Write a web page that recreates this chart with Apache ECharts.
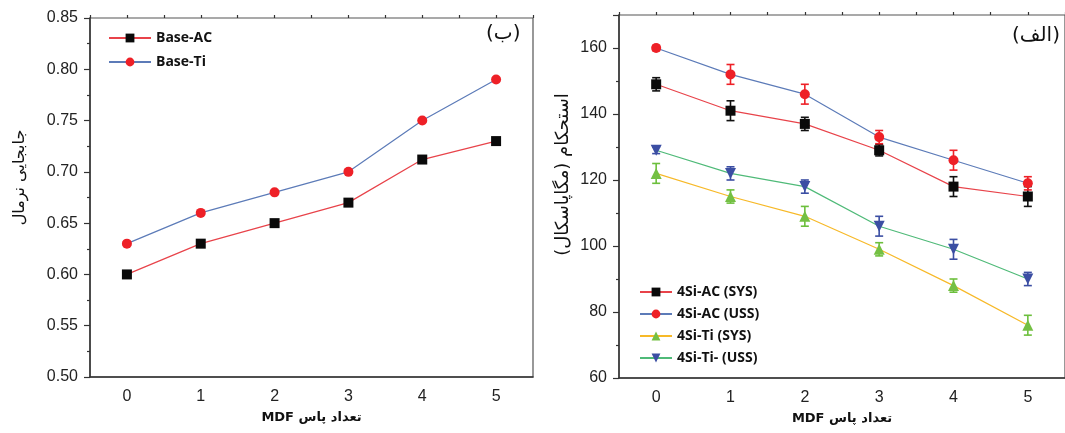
<!DOCTYPE html>
<html>
<head>
<meta charset="utf-8">
<script src="https://cdn.jsdelivr.net/npm/echarts@6/dist/echarts.min.js"></script>
<style>
  html, body { margin: 0; padding: 0; background: #fff; }
  #chart { width: 1065px; height: 433px; }
</style>
</head>
<body>
<div id="chart"></div>
<script>
// passes (x axis of both panels)
const passes = ["0", "1", "2", "3", "4", "5"];

// panel (ب) - normal displacement
const baseAC = [0.60, 0.63, 0.65, 0.67, 0.712, 0.73];
const baseTi = [0.63, 0.66, 0.68, 0.70, 0.75, 0.79];

// panel (الف) - strength (MPa) with error
const acSYS = [149, 141, 137, 129, 118, 115];
const acSYSerr = [2, 3, 2, 1.7, 3, 3];
const acUSS = [160, 152, 146, 133, 126, 119];
const acUSSerr = [0.8, 3, 3, 2, 3, 2];
const tiSYS = [122, 115, 109, 99, 88, 76];
const tiSYSerr = [3, 2, 3, 2, 2, 3];
const tiUSS = [129, 122, 118, 106, 99, 90];
const tiUSSerr = [1, 2, 2, 3, 3, 2];

const numFont = "Liberation Sans";
const faFont = "DejaVu Sans";
const axisColor = "#333";
// RTL embedding so Persian labels keep their order
const rtl = (s) => "\u202B" + s + "\u202C";

// 误差线
function errBars(name, vals, errs, color, xi, yi) {
  return {
    type: "custom",
    name: name + "-err",
    xAxisIndex: xi,
    yAxisIndex: yi,
    z: 3,
    data: vals.map((v, i) => [i, v - errs[i], v + errs[i]]),
    renderItem: function (params, api) {
      const lo = api.coord([api.value(0), api.value(1)]);
      const hi = api.coord([api.value(0), api.value(2)]);
      const w = 4;
      const st = { stroke: color, lineWidth: 1.6 };
      return {
        type: "group",
        children: [
          { type: "line", shape: { x1: lo[0], y1: lo[1], x2: hi[0], y2: hi[1] }, style: st },
          { type: "line", shape: { x1: lo[0] - w, y1: lo[1], x2: lo[0] + w, y2: lo[1] }, style: st },
          { type: "line", shape: { x1: hi[0] - w, y1: hi[1], x2: hi[0] + w, y2: hi[1] }, style: st },
        ],
      };
    },
  };
}

function lineSeries(name, data, lineColor, symbol, symColor, size, xi, yi) {
  return {
    type: "line",
    name: name,
    data: data,
    xAxisIndex: xi,
    yAxisIndex: yi,
    symbol: symbol,
    symbolSize: size,
    z: 4,
    lineStyle: { color: lineColor, width: 1.2 },
    itemStyle: { color: symColor },
    emphasis: { disabled: true },
  };
}

function catAxis(gi) {
  return {
    type: "category",
    gridIndex: gi,
    data: passes,
    boundaryGap: true,
    axisLine: { onZero: false, lineStyle: { color: axisColor, width: 1.5 } },
    axisTick: { alignWithLabel: true, length: 6, lineStyle: { color: axisColor, width: 1.2 } },
    axisLabel: { color: "#222", fontFamily: numFont, fontSize: 16, margin: 12 },
    name: rtl("تعداد پاس MDF"),
    nameLocation: "middle",
    nameGap: 34,
    nameTextStyle: { color: "#111", fontFamily: faFont, fontSize: 13, fontWeight: "bold" },
  };
}

// 半格小刻度
function minorAxis(gi) {
  return {
    type: "value",
    gridIndex: gi,
    min: -0.5,
    max: 5.5,
    interval: 0.5,
    axisLine: { show: false, onZero: false },
    axisTick: { length: 3, lineStyle: { color: axisColor, width: 1.2 } },
    axisLabel: { show: false },
    splitLine: { show: false },
  };
}

function valAxis(gi, min, max, step, fmt, name, gap, size, pad) {
  return {
    type: "value",
    gridIndex: gi,
    min: min,
    max: max,
    interval: step,
    axisLine: { show: true, onZero: false, lineStyle: { color: axisColor, width: 1.5 } },
    axisTick: { show: true, length: 6, lineStyle: { color: axisColor, width: 1.2 } },
    minorTick: { show: true, splitNumber: 2, length: 3, lineStyle: { color: axisColor, width: 1.2 } },
    splitLine: { show: false },
    axisLabel: { color: "#222", fontFamily: numFont, fontSize: 16, margin: 12, formatter: fmt },
    name: rtl(name),
    nameLocation: "middle",
    nameRotate: 90,
    nameGap: gap,
    nameTextStyle: { color: "#111", fontFamily: faFont, fontSize: size, padding: [0, 0, 0, pad] },
  };
}

const chart = echarts.init(document.getElementById("chart"));
chart.setOption({
  animation: false,
  grid: [
    { left: 90, top: 18, width: 443, height: 359, show: true, borderColor: "#555", borderWidth: 1.2 },
    { left: 619, top: 15, width: 449, height: 363, show: true, borderColor: "#555", borderWidth: 1.2 },
  ],
  xAxis: [catAxis(0), minorAxis(0), catAxis(1), minorAxis(1)],
  yAxis: [
    valAxis(0, 0.5, 0.85, 0.05, (v) => v.toFixed(2), "جابجایی نرمال", 62, 16, 40),
    valAxis(1, 60, 170, 20, (v) => (v > 160 ? "" : String(v)), "استحکام (مگاپاسکال)", 47, 18, 44),
  ],
  legend: [
    {
      data: ["Base-AC", "Base-Ti"],
      orient: "vertical",
      left: 103,
      top: 26,
      itemWidth: 42,
      itemHeight: 11,
      itemGap: 10,
      textStyle: { color: "#111", fontFamily: "Open Sans", fontWeight: "bold", fontSize: 14 },
    },
    {
      data: ["4Si-AC (SYS)", "4Si-AC (USS)", "4Si-Ti (SYS)", "4Si-Ti- (USS)"],
      orient: "vertical",
      left: 634,
      top: 280,
      itemWidth: 32,
      itemHeight: 11,
      itemGap: 8,
      textStyle: { color: "#111", fontFamily: "Open Sans", fontWeight: "bold", fontSize: 14 },
    },
  ],
  graphic: [
    { type: "text", left: 486, top: 24, style: { text: rtl("(ب)"), font: "20px 'DejaVu Sans'", fill: "#111" } },
    { type: "text", left: 1012, top: 26, style: { text: rtl("(الف)"), font: "20px 'DejaVu Sans'", fill: "#111" } },
  ],
  series: [
    lineSeries("Base-AC", baseAC, "#e8434a", "rect", "#0a0a0a", 10, 0, 0),
    lineSeries("Base-Ti", baseTi, "#5c7bb8", "circle", "#ee2027", 10, 0, 0),

    errBars("4Si-AC (SYS)", acSYS, acSYSerr, "#111", 2, 1),
    errBars("4Si-AC (USS)", acUSS, acUSSerr, "#ee2027", 2, 1),
    errBars("4Si-Ti (SYS)", tiSYS, tiSYSerr, "#6cbf3c", 2, 1),
    errBars("4Si-Ti- (USS)", tiUSS, tiUSSerr, "#3b4ea3", 2, 1),
    lineSeries("4Si-AC (SYS)", acSYS, "#e8434a", "rect", "#0a0a0a", 10, 2, 1),
    lineSeries("4Si-AC (USS)", acUSS, "#5c7bb8", "circle", "#ee2027", 10, 2, 1),
    lineSeries("4Si-Ti (SYS)", tiSYS, "#f7b928", "triangle", "#74c043", 11, 2, 1),
    lineSeries("4Si-Ti- (USS)", tiUSS, "#4fba78", "path://M0,0L10,0L5,9Z", "#3b4ea3", 11, 2, 1),
  ],
});
</script>
</body>
</html>
